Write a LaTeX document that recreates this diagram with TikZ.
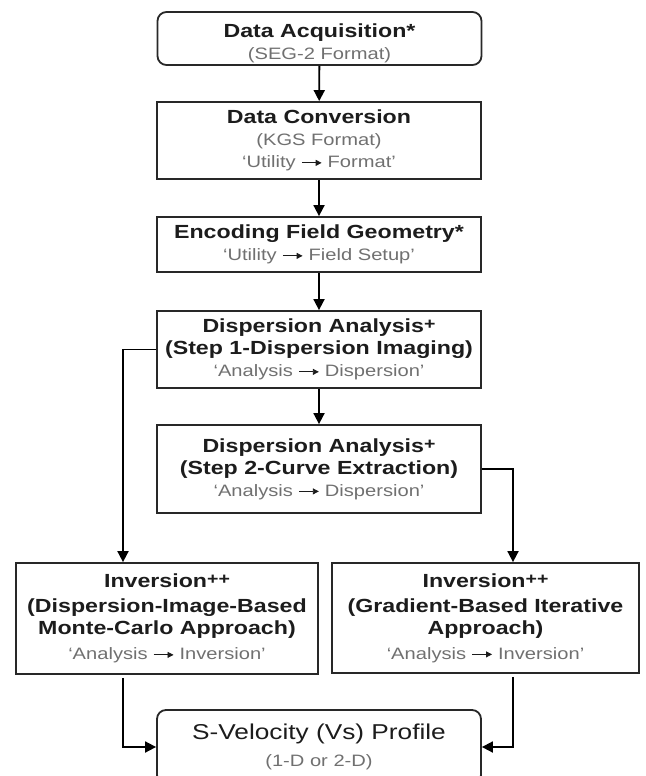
\documentclass[tikz,border=0pt]{standalone}
\usepackage{fontspec}
\setmainfont{Liberation Sans}[FakeStretch=1.22]
\usetikzlibrary{arrows.meta,positioning}
\definecolor{inkcol}{RGB}{28,28,28}
\definecolor{notecol}{RGB}{112,112,112}
\definecolor{framecol}{RGB}{40,40,40}
\newcommand{\menuarrow}{\tikz[baseline=-0.55ex]\draw[-{Triangle[length=6pt,width=6pt]},line width=0.9pt,draw=inkcol] (0,0)--(1.2em,0);}
\newcommand{\plusmark}{\raisebox{0.3ex}{\fontsize{16}{16}\selectfont +}}
\newcommand{\notetext}[1]{{\fontsize{16.5}{22}\selectfont\mdseries\color{notecol}#1}}
\newcommand{\topgap}[1]{\rule{0pt}{#1}}
\tikzset{
  stepbox/.style={draw=framecol,line width=1.8pt,minimum width=324pt,inner sep=0pt,align=center,
    text=inkcol,font=\fontsize{19}{22}\selectfont\bfseries},
  endbox/.style={stepbox,rounded corners=9pt},
  flow/.style={-{Triangle[length=11pt,width=11pt]},draw=black,line width=1.8pt}
}
\begin{document}
\begin{tikzpicture}[x=1pt,y=-1pt]
\useasboundingbox (0,0) rectangle (645,776);
% ---- main column ----
\node[endbox,minimum height=53pt] (acq) at (319.5,38.5)
  {\topgap{24pt}Data Acquisition*\\ \notetext{(SEG-2 Format)}};
\node[stepbox,minimum height=77pt] (conv) at (319,140.5)
  {Data Conversion\\ \notetext{(KGS Format)}\\ \notetext{`Utility \menuarrow\ Format'}};
\node[stepbox,minimum height=55pt] (geom) at (319,244.5)
  {Encoding Field Geometry*\\ \notetext{`Utility \menuarrow\ Field Setup'}};
\node[stepbox,minimum height=77pt] (disp1) at (319,349.5)
  {Dispersion Analysis\plusmark\\ (Step 1-Dispersion Imaging)\\ \notetext{`Analysis \menuarrow\ Dispersion'}};
\node[stepbox,minimum height=88pt] (disp2) at (319,469)
  {Dispersion Analysis\plusmark\\ (Step 2-Curve Extraction)\\ \notetext{`Analysis \menuarrow\ Dispersion'}};
% ---- inversion branches ----
\node[stepbox,minimum width=302pt,minimum height=111pt] (invMC) at (167,618.5)
  {Inversion\plusmark\plusmark\\[3pt] (Dispersion-Image-Based\\ Monte-Carlo Approach)\\[3pt]
   \notetext{`Analysis \menuarrow\ Inversion'}};
\node[stepbox,minimum width=307pt,minimum height=110pt] (invGB) at (485.5,618)
  {Inversion\plusmark\plusmark\\[3pt] (Gradient-Based Iterative\\ Approach)\\[3pt]
   \notetext{`Analysis \menuarrow\ Inversion'}};
\node[endbox,minimum height=74pt,font=\fontsize{21.5}{27}\selectfont] (prof) at (319,747)
  {S-Velocity (Vs) Profile\\ \notetext{(1-D or 2-D)}};
% ---- connectors ----
\foreach \a/\b in {acq/conv,conv/geom,geom/disp1,disp1/disp2}{
  \draw[flow] (\a) -- (\b);}
\draw[flow] (disp1.west) -| ([xshift=-44pt]invMC.north);
\draw[flow] (disp2.east) -| ([xshift=27.5pt]invGB.north);
\draw[flow] ([xshift=-44pt,yshift=-3pt]invMC.south) |- (prof.west);
\draw[flow] ([xshift=27.5pt,yshift=-3pt]invGB.south) |- (prof.east);
\end{tikzpicture}
\end{document}
